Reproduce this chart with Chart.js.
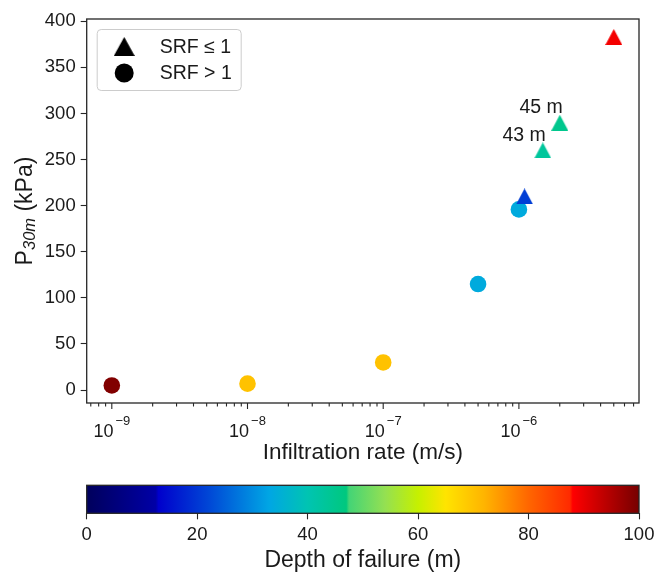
<!DOCTYPE html>
<html>
<head>
<meta charset="utf-8">
<script src="https://cdn.jsdelivr.net/npm/chart.js@4.4.1/dist/chart.umd.min.js"></script>
<style>
  html, body { margin: 0; padding: 0; background: #fff; }
  #wrap { position: relative; width: 657px; height: 572px; }
  #main { position: absolute; left: 0; top: 0; }
  #cbar { position: absolute; left: 0; top: 470px; }
</style>
</head>
<body>
<div id="wrap">
  <canvas id="main" width="657" height="470"></canvas>
  <canvas id="cbar" width="657" height="102"></canvas>
</div>
<script>
// --- Dados ---
// SRF <= 1 (triângulos)
const triRate = [1.1e-6, 1.5e-6, 2e-6, 5e-6];
const triP = [210, 260, 290, 383];
const triDepth = [21, 43, 45, 89];
const triNotes = ['', '43 m', '45 m', ''];
// SRF > 1 (círculos)
const cirRate = [1e-9, 1e-8, 1e-7, 5e-7, 1e-6];
const cirP = [5, 7, 30, 115, 196];
const cirDepth = [99, 70, 70, 34, 34];

const legendLabels = ['SRF \u2264 1', 'SRF > 1'];
const xMajorExp = [-9, -8, -7, -6];
const depthTicks = [0, 20, 40, 60, 80, 100];

// Mapa de cores (profundidade -> cor)
const cmapStops = [
  [0, '#00005c'], [12.5, '#0000a6'], [13, '#0000cc'], [22, '#0046d6'],
  [33, '#00a6e4'], [40, '#00c4b2'], [47, '#00c87e'], [47.5, '#44d476'],
  [54, '#94e052'], [60, '#c6f000'], [65, '#ffe400'], [72, '#ffb400'],
  [80, '#ff6600'], [87.5, '#ff2a00'], [88, '#ff0000'], [100, '#760000']
];

const FONT = "'Liberation Sans', Arial, sans-serif";
const TXT = '#1a1a1a';

function hexRgb(h) {
  return [parseInt(h.slice(1, 3), 16), parseInt(h.slice(3, 5), 16), parseInt(h.slice(5, 7), 16)];
}
function depthColor(v) {
  for (let i = 1; i < cmapStops.length; i++) {
    const [d1, c1] = cmapStops[i];
    const [d0, c0] = cmapStops[i - 1];
    if (v <= d1) {
      const t = (v - d0) / (d1 - d0);
      const a = hexRgb(c0), b = hexRgb(c1);
      const c = a.map((x, k) => Math.round(x + (b[k] - x) * t));
      return `rgb(${c[0]},${c[1]},${c[2]})`;
    }
  }
  return cmapStops[cmapStops.length - 1][1];
}

// Triângulo estilo matplotlib ('^')
function triImg(color, w, h) {
  const c = document.createElement('canvas');
  c.width = w; c.height = h;
  const g = c.getContext('2d');
  g.fillStyle = color;
  g.beginPath();
  g.moveTo(w / 2, 0); g.lineTo(w, h); g.lineTo(0, h);
  g.closePath(); g.fill();
  return c;
}
const triStyles = triDepth.map(d => triImg(depthColor(d), 17, 16));

// --- Plugin: moldura, ticks do eixo log, título Y, legenda, anotações ---
const extrasPlugin = {
  id: 'extras',
  afterDraw(chart) {
    const { ctx, chartArea: a, scales } = chart;
    const xs = scales.x;
    ctx.save();

    // moldura
    ctx.strokeStyle = '#262626';
    ctx.lineWidth = 1.3;
    ctx.strokeRect(a.left, a.top, a.right - a.left, a.bottom - a.top);

    // ticks do eixo x (log)
    ctx.lineWidth = 1.1;
    for (let e = -10; e <= -5; e++) {
      for (let k = 1; k <= 9; k++) {
        const v = k * Math.pow(10, e);
        if (v < xs.min || v > xs.max) continue;
        const px = xs.getPixelForValue(v);
        ctx.beginPath();
        ctx.moveTo(px, a.bottom);
        ctx.lineTo(px, a.bottom + (k === 1 ? 6 : 3.5));
        ctx.stroke();
      }
    }
    ctx.fillStyle = TXT;
    ctx.textBaseline = 'alphabetic';
    xMajorExp.forEach(e => {
      const px = xs.getPixelForValue(Math.pow(10, e));
      const base = '10', sup = '\u2212' + Math.abs(e);
      ctx.font = `18px ${FONT}`;
      const wb = ctx.measureText(base).width;
      ctx.font = `13px ${FONT}`;
      const ws = ctx.measureText(sup).width;
      const x0 = px - (wb + ws + 2) / 2;
      ctx.font = `18px ${FONT}`;
      ctx.textAlign = 'left';
      ctx.fillText(base, x0, a.bottom + 34);
      ctx.font = `13px ${FONT}`;
      ctx.fillText(sup, x0 + wb + 2, a.bottom + 22);
    });

    // título do eixo y: P_{30m} (kPa)
    ctx.save();
    ctx.translate(24, (a.top + a.bottom) / 2);
    ctx.rotate(-Math.PI / 2);
    ctx.textAlign = 'left';
    ctx.textBaseline = 'alphabetic';
    const parts = [
      { t: 'P', f: `23px ${FONT}`, dy: 8.3 },
      { t: '30m', f: `italic 16.5px ${FONT}`, dy: 11 },
      { t: ' (kPa)', f: `23px ${FONT}`, dy: 8.3 }
    ];
    let tw = 0;
    parts.forEach(p => { ctx.font = p.f; p.w = ctx.measureText(p.t).width; tw += p.w; });
    let cx = -tw / 2;
    parts.forEach(p => { ctx.font = p.f; ctx.fillText(p.t, cx, p.dy); cx += p.w; });
    ctx.restore();

    // anotações de profundidade
    const triMeta = chart.getDatasetMeta(0);
    ctx.font = `19.5px ${FONT}`;
    ctx.textAlign = 'right';
    ctx.textBaseline = 'alphabetic';
    triNotes.forEach((n, i) => {
      if (!n) return;
      const el = triMeta.data[i];
      ctx.fillText(n, el.x + 3, el.y - 9.5);
    });

    // legenda
    const lx = a.left + 10, ly = a.top + 10, lw = 144, lh = 61;
    ctx.fillStyle = 'rgba(255,255,255,0.85)';
    ctx.strokeStyle = '#cccccc';
    ctx.lineWidth = 1;
    ctx.beginPath();
    ctx.roundRect(lx + 0.5, ly + 0.5, lw, lh, 4);
    ctx.fill(); ctx.stroke();
    const legY = [ly + 17.5, ly + 44];
    const mx = lx + 27.5;
    ctx.drawImage(triImg('#000', 21, 19), mx - 10.5, legY[0] - 9.5);
    ctx.fillStyle = '#000';
    ctx.beginPath();
    ctx.arc(mx, legY[1], 9.5, 0, Math.PI * 2);
    ctx.fill();
    ctx.fillStyle = TXT;
    ctx.font = `19.5px ${FONT}`;
    ctx.textAlign = 'left';
    ctx.textBaseline = 'middle';
    legendLabels.forEach((t, i) => ctx.fillText(t, lx + 63, legY[i] + 1));

    ctx.restore();
  }
};

// --- Gráfico principal ---
new Chart(document.getElementById('main'), {
  type: 'scatter',
  data: {
    datasets: [
      {
        label: legendLabels[0],
        data: triRate.map((r, i) => ({ x: r, y: triP[i] })),
        pointStyle: ctx => triStyles[ctx.dataIndex],
        pointRadius: 8.5
      },
      {
        label: legendLabels[1],
        data: cirRate.map((r, i) => ({ x: r, y: cirP[i] })),
        pointStyle: 'circle',
        pointRadius: 8.3,
        pointBorderWidth: 0,
        pointBackgroundColor: cirDepth.map(depthColor),
        pointBorderColor: cirDepth.map(depthColor)
      }
    ]
  },
  options: {
    responsive: false,
    animation: false,
    devicePixelRatio: 1,
    events: [],
    layout: { padding: { top: 19, right: 18, left: 0, bottom: 0 } },
    plugins: { legend: { display: false }, tooltip: { enabled: false } },
    scales: {
      x: {
        type: 'logarithmic',
        min: Math.pow(10, -9.185),
        max: Math.pow(10, -5.115),
        ticks: { display: false },
        grid: { display: false },
        border: { display: false },
        title: {
          display: true, text: 'Infiltration rate (m/s)', color: TXT,
          font: { family: FONT, size: 22.5, lineHeight: 1.2 }, padding: { top: 0, bottom: 4 }
        },
        afterFit: s => { s.height = 67; }
      },
      y: {
        min: -14,
        max: 402.5,
        ticks: { stepSize: 50, includeBounds: false, color: TXT, font: { family: FONT, size: 18.5 }, padding: 5 },
        grid: { drawOnChartArea: false, tickLength: 6, color: '#262626', tickWidth: 1.1 },
        border: { display: false },
        afterFit: s => { s.width = 86.7; }
      }
    }
  },
  plugins: [extrasPlugin]
});

// --- Barra de cores ---
const gradientPlugin = {
  id: 'gradiente',
  beforeDraw(chart) {
    const { ctx, chartArea: a, scales } = chart;
    const xs = scales.x;
    const grad = ctx.createLinearGradient(xs.getPixelForValue(0), 0, xs.getPixelForValue(100), 0);
    cmapStops.forEach(([d, c]) => grad.addColorStop(d / 100, c));
    ctx.save();
    ctx.fillStyle = grad;
    ctx.fillRect(a.left, a.top, a.right - a.left, a.bottom - a.top);
    ctx.strokeStyle = '#262626';
    ctx.lineWidth = 1.3;
    ctx.strokeRect(a.left, a.top, a.right - a.left, a.bottom - a.top);
    ctx.restore();
  }
};

new Chart(document.getElementById('cbar'), {
  type: 'scatter',
  data: { datasets: [] },
  options: {
    responsive: false,
    animation: false,
    devicePixelRatio: 1,
    events: [],
    layout: { padding: { top: 15.3, left: 86.7, right: 18, bottom: 0 } },
    plugins: { legend: { display: false }, tooltip: { enabled: false } },
    scales: {
      x: {
        type: 'linear',
        min: 0,
        max: 100,
        afterBuildTicks: s => { s.ticks = depthTicks.map(v => ({ value: v })); },
        ticks: { color: TXT, font: { family: FONT, size: 18.5 }, padding: 5 },
        grid: { drawOnChartArea: false, tickLength: 6, color: '#262626', tickWidth: 1.1 },
        border: { display: false },
        title: {
          display: true, text: 'Depth of failure (m)', color: TXT,
          font: { family: FONT, size: 23, lineHeight: 1.0 }, padding: { top: 0, bottom: 0 }
        },
        afterFit: s => { s.height = 58.7; s.paddingLeft = 0; s.paddingRight = 0; }
      },
      y: { display: false, min: 0, max: 1 }
    }
  },
  plugins: [gradientPlugin]
});
</script>
</body>
</html>
